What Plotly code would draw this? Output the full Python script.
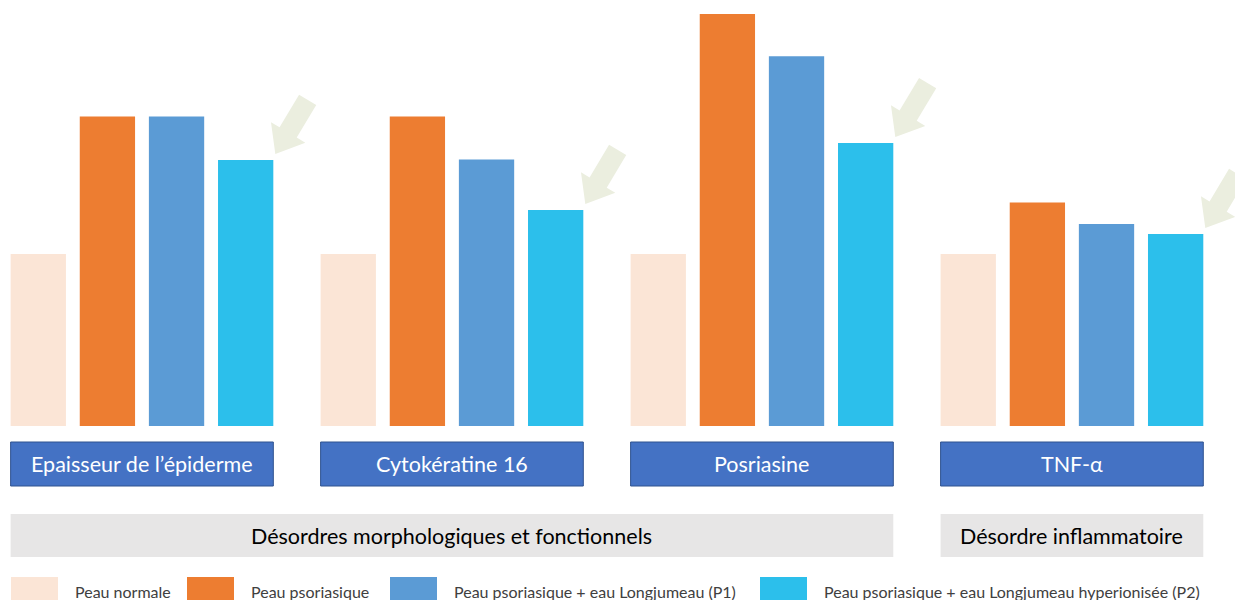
import math
import plotly.graph_objects as go

# ---- data ----
categories = ["Epaisseur de l’épiderme", "Cytokératine 16", "Posriasine", "TNF-α"]
series_names = [
    "Peau normale",
    "Peau psoriasique",
    "Peau psoriasique + eau Longjumeau (P1)",
    "Peau psoriasique + eau Longjumeau hyperionisée (P2)",
]
peau_normale = [100, 100, 100, 100]
peau_psoriasique = [180, 180, 239.5, 130]
peau_p1 = [180, 155, 215, 117.4]
peau_p2 = [154.7, 125.6, 164.5, 111.6]
group_labels = ["Désordres morphologiques et fonctionnels", "Désordre inflammatoire"]
group_spans = [(0, 2), (3, 3)]  # category index ranges

# ---- styles ----
colors = ["#FBE5D6", "#ED7D31", "#5B9BD5", "#2CBFEB"]
FONT = "Lato"
W, H = 1235, 600
MB = 174
plot_h = H - MB
x_range = [-0.458, 3.526]
px_per_x = W / (x_range[1] - x_range[0])
y_max = 247.7
px_per_y = plot_h / y_max

x = list(range(len(categories)))
series = [peau_normale, peau_psoriasique, peau_p1, peau_p2]

fig = go.Figure()
for name, vals, c in zip(series_names, series, colors):
    fig.add_trace(go.Bar(x=x, y=vals, name=name, marker=dict(color=c, line=dict(width=0)),
                         showlegend=False, hoverinfo="skip"))

BARGAP = 0.108
BARGROUPGAP = 0.2
half_span = (1 - BARGAP) / 2 - (1 - BARGAP) / 4 * BARGROUPGAP / 2  # half width of visible group


def py_to_paper(py):
    return (plot_h - py) / plot_h


shapes = []
annotations = []

# category boxes
for i, cat in enumerate(categories):
    shapes.append(dict(type="rect", xref="x", yref="paper",
                       x0=i - half_span, x1=i + half_span,
                       y0=py_to_paper(486), y1=py_to_paper(442),
                       fillcolor="#4472C4", line=dict(color="#2F528F", width=1)))
    annotations.append(dict(xref="x", yref="paper", x=i, y=py_to_paper(464),
                            xanchor="center", yanchor="middle",
                            text=cat, showarrow=False,
                            font=dict(family=FONT, size=21.5, color="white")))

# group boxes
for lab, (a, b) in zip(group_labels, group_spans):
    shapes.append(dict(type="rect", xref="x", yref="paper",
                       x0=a - half_span, x1=b + half_span,
                       y0=py_to_paper(557), y1=py_to_paper(514),
                       fillcolor="#E7E6E6", line=dict(width=0)))
    annotations.append(dict(xref="x", yref="paper", x=(a + b) / 2, y=py_to_paper(535.5),
                            xanchor="center", yanchor="middle",
                            text=lab, showarrow=False,
                            font=dict(family=FONT, size=21.5, color="#000000")))

# arrows pointing to P2 bars (arrow polygon defined in pixels, converted to data units)
d = (-32, 53.5)
L = math.hypot(*d)
d = (d[0] / L, d[1] / L)
n = (d[1], -d[0])
head_len, head_hw, shaft_hw, total = 25, 20, 10, 63


def pt(along, side):
    return (-d[0] * along + n[0] * side, -d[1] * along + n[1] * side)


poly = [pt(0, 0), pt(head_len, head_hw), pt(head_len, shaft_hw), pt(total, shaft_hw),
        pt(total, -shaft_hw), pt(head_len, -shaft_hw), pt(head_len, -head_hw)]
for i, v in enumerate(peau_p2):
    tx = i + half_span + 2 / px_per_x
    ty = v + 6 / px_per_y
    path = ""
    for k, (dx, dy) in enumerate(poly):
        X = tx + dx / px_per_x
        Y = ty - dy / px_per_y
        path += ("M" if k == 0 else "L") + f"{X:.5f},{Y:.5f} "
    path += "Z"
    shapes.append(dict(type="path", xref="x", yref="y", path=path,
                       fillcolor="#EBEEDF", line=dict(width=0), layer="above"))

# custom legend
legend_x = [11, 187, 390, 760]
for lx, name, c in zip(legend_x, series_names, colors):
    shapes.append(dict(type="rect", xref="paper", yref="paper",
                       x0=lx / W, x1=(lx + 47) / W,
                       y0=py_to_paper(601), y1=py_to_paper(577),
                       fillcolor=c, line=dict(width=0)))
    annotations.append(dict(xref="paper", yref="paper", x=(lx + 62) / W, y=py_to_paper(591),
                            xanchor="left", yanchor="middle", text=name, showarrow=False,
                            font=dict(family=FONT, size=16, color="#404040")))

fig.update_layout(
    width=W, height=H,
    margin=dict(l=0, r=0, t=0, b=MB, pad=0),
    paper_bgcolor="white", plot_bgcolor="white",
    barmode="group", bargap=BARGAP, bargroupgap=BARGROUPGAP,
    xaxis=dict(range=x_range, showgrid=False, zeroline=False, showticklabels=False,
               showline=False, ticks=""),
    yaxis=dict(range=[0, y_max], showgrid=False, zeroline=False, showticklabels=False,
               showline=False, ticks=""),
    shapes=shapes, annotations=annotations,
    showlegend=False,
)

fig.write_html("out.html", config={"displayModeBar": False},
               post_script="document.body.style.margin='0px';document.body.style.overflow='hidden';")
